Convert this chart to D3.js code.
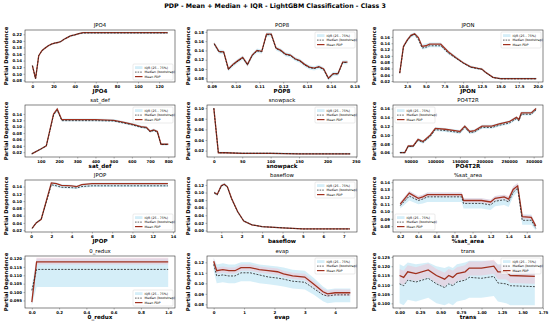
<!DOCTYPE html><html><head><meta charset="utf-8">
<script src="https://cdn.jsdelivr.net/npm/d3@7"></script>
<style>body{margin:0;background:#fff} text{font-family:"DejaVu Sans",sans-serif}</style>
</head><body><svg id="c" width="550" height="321"></svg><script>
// ---------- data ----------
const jpo4_x = [0,3,6,9,12,15,18,21,24,27,30,33,36,40,44,48,55,65,75,85,95,105,115,128];
const jpo4_mean = [0.125,0.085,0.155,0.170,0.178,0.185,0.190,0.193,0.195,0.198,0.205,0.210,0.215,0.218,0.222,0.225,0.225,0.225,0.225,0.225,0.225,0.225,0.225,0.225];
const jpo4_med  = [0.125,0.085,0.155,0.170,0.178,0.185,0.190,0.193,0.195,0.198,0.205,0.210,0.215,0.218,0.222,0.224,0.224,0.224,0.224,0.224,0.224,0.224,0.224,0.224];
const jpo4_lo = [0.122,0.082,0.152,0.167,0.175,0.182,0.187,0.190,0.192,0.195,0.202,0.207,0.212,0.215,0.219,0.221,0.221,0.221,0.221,0.221,0.221,0.221,0.221,0.221];
const jpo4_hi = [0.128,0.088,0.158,0.173,0.181,0.188,0.193,0.196,0.198,0.201,0.208,0.213,0.218,0.221,0.225,0.228,0.228,0.228,0.228,0.228,0.228,0.228,0.228,0.228];

const pop8_x = [0.091,0.093,0.095,0.097,0.099,0.101,0.103,0.105,0.107,0.109,0.111,0.113,0.115,0.117,0.119,0.121,0.123,0.125,0.127,0.129,0.131,0.133,0.135,0.137,0.139,0.141,0.143,0.145,0.147];
const pop8_mean = [0.155,0.138,0.137,0.100,0.110,0.118,0.125,0.110,0.130,0.140,0.138,0.175,0.175,0.145,0.140,0.132,0.130,0.122,0.118,0.110,0.104,0.102,0.105,0.100,0.080,0.090,0.090,0.115,0.115];
const pop8_med  = [0.154,0.137,0.136,0.099,0.109,0.117,0.124,0.109,0.129,0.139,0.137,0.174,0.174,0.144,0.139,0.131,0.129,0.121,0.117,0.109,0.103,0.101,0.104,0.099,0.079,0.089,0.089,0.114,0.114];
const pop8_lo = [0.150,0.133,0.132,0.095,0.105,0.113,0.120,0.105,0.125,0.135,0.133,0.170,0.170,0.140,0.135,0.127,0.125,0.117,0.113,0.105,0.099,0.097,0.100,0.095,0.075,0.085,0.085,0.110,0.110];
const pop8_hi = [0.159,0.142,0.141,0.104,0.114,0.122,0.129,0.114,0.134,0.144,0.142,0.179,0.179,0.149,0.144,0.136,0.134,0.126,0.122,0.114,0.108,0.106,0.109,0.104,0.084,0.094,0.094,0.119,0.119];

const jpon_x = [1.5,2.0,2.5,3.0,3.5,4.0,4.5,5.0,5.5,6.0,7.0,7.5,8.0,9.0,10.0,11.0,12.0,12.5,13.0,14.0,15.0,16.0,17.0,18.0,19.0,19.8];
const jpon_mean = [0.045,0.130,0.150,0.165,0.170,0.158,0.130,0.132,0.137,0.137,0.137,0.125,0.113,0.095,0.078,0.065,0.060,0.058,0.048,0.032,0.028,0.028,0.028,0.028,0.028,0.028];
const jpon_med  = [0.045,0.128,0.148,0.163,0.168,0.152,0.125,0.127,0.132,0.132,0.132,0.120,0.109,0.093,0.077,0.064,0.059,0.057,0.047,0.031,0.027,0.027,0.027,0.027,0.027,0.027];
const jpon_lo = [0.040,0.123,0.143,0.158,0.163,0.148,0.120,0.122,0.127,0.127,0.127,0.116,0.105,0.090,0.074,0.061,0.056,0.054,0.044,0.029,0.025,0.025,0.025,0.025,0.025,0.025];
const jpon_hi = [0.050,0.135,0.155,0.170,0.175,0.163,0.137,0.139,0.142,0.142,0.142,0.130,0.118,0.100,0.082,0.069,0.064,0.062,0.052,0.035,0.031,0.031,0.031,0.031,0.031,0.031];

const sat_x = [50,100,130,150,170,190,215,250,300,400,500,550,600,650,680,700,720,740,760,780,800];
const sat_mean = [0.015,0.030,0.040,0.090,0.140,0.155,0.122,0.122,0.122,0.122,0.120,0.114,0.108,0.100,0.098,0.086,0.090,0.085,0.045,0.045,0.045];
const sat_med  = [0.015,0.030,0.040,0.088,0.137,0.152,0.119,0.119,0.119,0.119,0.118,0.112,0.106,0.098,0.096,0.084,0.088,0.083,0.044,0.044,0.044];
const sat_lo = [0.012,0.027,0.037,0.085,0.133,0.148,0.116,0.116,0.116,0.116,0.115,0.109,0.103,0.095,0.093,0.081,0.085,0.080,0.041,0.041,0.041];
const sat_hi = [0.018,0.033,0.043,0.094,0.144,0.160,0.126,0.126,0.126,0.126,0.124,0.118,0.112,0.104,0.102,0.090,0.094,0.089,0.049,0.049,0.049];

const snow_x = [0,8,20,50,80,100,150,200,240];
const snow_mean = [0.100,0.016,0.016,0.015,0.015,0.015,0.014,0.014,0.014];
const snow_med  = [0.100,0.016,0.016,0.015,0.015,0.015,0.014,0.014,0.014];
const snow_lo = [0.098,0.014,0.014,0.013,0.013,0.013,0.012,0.012,0.012];
const snow_hi = [0.102,0.018,0.018,0.017,0.017,0.017,0.016,0.016,0.016];

const po4_x = [28000,38000,45000,55000,65000,75000,90000,100000,120000,140000,150000,160000,170000,180000,195000,215000,230000,250000,265000,270000,275000,295000,305000];
const po4_mean = [0.060,0.060,0.075,0.075,0.090,0.085,0.100,0.115,0.113,0.110,0.108,0.120,0.108,0.110,0.120,0.120,0.125,0.130,0.140,0.135,0.150,0.150,0.160];
const po4_med  = [0.060,0.060,0.074,0.074,0.088,0.083,0.097,0.112,0.110,0.107,0.105,0.117,0.105,0.107,0.117,0.117,0.122,0.127,0.137,0.132,0.147,0.147,0.157];
const po4_lo = [0.057,0.057,0.071,0.071,0.085,0.080,0.094,0.109,0.107,0.104,0.102,0.114,0.102,0.104,0.114,0.114,0.119,0.124,0.134,0.129,0.144,0.144,0.154];
const po4_hi = [0.063,0.063,0.078,0.078,0.093,0.088,0.103,0.118,0.116,0.113,0.111,0.123,0.111,0.113,0.123,0.123,0.128,0.133,0.143,0.138,0.153,0.153,0.163];

const jpop_x = [0.1,0.5,1.0,2.0,2.5,3.0,4.0,4.5,5.0,6.0,7.0,8.0,10.0,12.0,13.5];
const jpop_mean = [0.025,0.040,0.050,0.150,0.148,0.143,0.142,0.140,0.145,0.148,0.148,0.148,0.148,0.148,0.148];
const jpop_med  = [0.025,0.040,0.050,0.145,0.142,0.138,0.137,0.136,0.140,0.142,0.142,0.142,0.142,0.142,0.142];
const jpop_lo = [0.022,0.037,0.047,0.142,0.139,0.135,0.134,0.133,0.137,0.139,0.139,0.139,0.139,0.139,0.139];
const jpop_hi = [0.028,0.043,0.053,0.153,0.151,0.146,0.145,0.143,0.148,0.151,0.151,0.151,0.151,0.151,0.151];

const base_x = [0.65,0.8,1.0,1.15,1.3,1.5,1.8,2.1,2.5,3.0,4.0,5.0,6.0,7.3];
const base_mean = [0.100,0.095,0.118,0.122,0.115,0.085,0.050,0.025,0.015,0.010,0.007,0.004,0.004,0.004];
const base_med  = [0.099,0.094,0.117,0.121,0.114,0.084,0.049,0.025,0.015,0.010,0.007,0.004,0.004,0.004];
const base_lo = [0.096,0.091,0.114,0.118,0.111,0.081,0.046,0.022,0.013,0.008,0.005,0.003,0.003,0.003];
const base_hi = [0.104,0.099,0.122,0.126,0.119,0.089,0.054,0.028,0.017,0.012,0.009,0.005,0.005,0.005];

const area_x = [0.2,0.3,0.4,0.45,0.5,0.6,0.88,0.9,1.1,1.2,1.25,1.35,1.4,1.45,1.5,1.55,1.65,1.7];
const area_mean = [0.110,0.125,0.118,0.120,0.123,0.123,0.123,0.115,0.115,0.113,0.118,0.120,0.117,0.130,0.135,0.093,0.092,0.080];
const area_med  = [0.108,0.121,0.115,0.117,0.120,0.120,0.120,0.111,0.111,0.109,0.114,0.116,0.113,0.126,0.132,0.088,0.088,0.077];
const area_lo = [0.104,0.115,0.110,0.111,0.113,0.113,0.113,0.104,0.104,0.102,0.107,0.109,0.106,0.120,0.127,0.082,0.082,0.074];
const area_hi = [0.113,0.128,0.121,0.123,0.126,0.126,0.126,0.118,0.118,0.116,0.121,0.123,0.120,0.134,0.139,0.096,0.096,0.083];
const area_plo = [0.108,0.122,0.115,0.117,0.120,0.120,0.120,0.112,0.112,0.110,0.115,0.117,0.114,0.127,0.132,0.090,0.089,0.078];
const area_phi = [0.113,0.128,0.121,0.123,0.126,0.126,0.126,0.118,0.118,0.116,0.121,0.123,0.121,0.134,0.139,0.096,0.095,0.083];

const redux_x = [0.0,0.035,0.2,0.4,0.6,0.8,1.0];
const redux_mean = [0.094,0.118,0.118,0.118,0.118,0.118,0.118];
const redux_med  = [0.101,0.1135,0.1135,0.1135,0.1135,0.1135,0.1135];
const redux_lo = [0.092,0.103,0.103,0.103,0.103,0.103,0.103];
const redux_hi = [0.104,0.120,0.120,0.120,0.120,0.120,0.120];
const redux_plo = [0.092,0.1165,0.1165,0.1165,0.1165,0.1165,0.1165];
const redux_phi = [0.097,0.1205,0.1205,0.1205,0.1205,0.1205,0.1205];

const evap_x = [0.0,0.1,0.3,0.5,0.7,0.9,1.2,1.5,1.8,2.1,2.3,2.6,3.0,3.3,3.6,3.75,4.0,4.5];
const evap_mean = [0.121,0.112,0.113,0.112,0.112,0.115,0.115,0.113,0.112,0.111,0.109,0.107,0.106,0.099,0.092,0.090,0.091,0.091];
const evap_med  = [0.118,0.107,0.108,0.107,0.107,0.110,0.110,0.108,0.106,0.105,0.104,0.102,0.101,0.095,0.089,0.088,0.089,0.089];
const evap_lo = [0.112,0.100,0.101,0.100,0.100,0.102,0.102,0.100,0.099,0.098,0.097,0.095,0.094,0.089,0.083,0.081,0.082,0.082];
const evap_hi = [0.124,0.118,0.119,0.118,0.118,0.120,0.120,0.118,0.117,0.116,0.115,0.113,0.112,0.105,0.097,0.094,0.095,0.095];
const evap_plo = [0.117,0.109,0.110,0.109,0.109,0.112,0.112,0.110,0.109,0.108,0.106,0.104,0.103,0.096,0.089,0.087,0.088,0.088];
const evap_phi = [0.124,0.115,0.116,0.115,0.115,0.118,0.118,0.116,0.115,0.114,0.112,0.110,0.109,0.102,0.095,0.093,0.094,0.094];

const trans_x = [0.0,0.05,0.1,0.2,0.35,0.45,0.55,0.6,0.65,0.7,0.8,0.85,1.0,1.15,1.2,1.3,1.35,1.65];
const trans_mean = [0.115,0.114,0.117,0.116,0.118,0.115,0.113,0.115,0.114,0.116,0.117,0.119,0.119,0.120,0.117,0.117,0.115,0.1145];
const trans_med  = [0.1105,0.1095,0.1125,0.1115,0.1135,0.1105,0.1085,0.1105,0.1095,0.1115,0.1125,0.1140,0.1135,0.1145,0.1110,0.1105,0.1095,0.1090];
const trans_lo = [0.100,0.099,0.102,0.101,0.103,0.100,0.099,0.100,0.099,0.101,0.102,0.103,0.103,0.104,0.101,0.100,0.099,0.099];
const trans_hi = [0.121,0.120,0.122,0.121,0.122,0.120,0.119,0.120,0.119,0.121,0.122,0.123,0.123,0.123,0.121,0.121,0.120,0.120];
const trans_plo = [0.111,0.110,0.113,0.112,0.114,0.111,0.109,0.111,0.110,0.112,0.113,0.115,0.115,0.116,0.113,0.113,0.111,0.1105];
const trans_phi = [0.1185,0.1175,0.1205,0.1195,0.1215,0.1185,0.1165,0.1185,0.1175,0.1195,0.1205,0.1225,0.1225,0.1235,0.1205,0.1205,0.1185,0.118];

// ticks
const jpo4_xt=[0,20,40,60,80,100,120], jpo4_yt=[0.08,0.10,0.12,0.14,0.16,0.18,0.20,0.22];
const pop8_xt=[0.09,0.10,0.11,0.12,0.13,0.14,0.15], pop8_yt=[0.08,0.10,0.12,0.14,0.16,0.18];
const jpon_xt=[2.5,5,7.5,10,12.5,15,17.5,20], jpon_yt=[0.02,0.04,0.06,0.08,0.10,0.12,0.14,0.16];
const sat_xt=[100,200,300,400,500,600,700,800], sat_yt=[0.02,0.04,0.06,0.08,0.10,0.12,0.14];
const snow_xt=[0,50,100,150,200,250], snow_yt=[0.02,0.04,0.06,0.08,0.10];
const po4_xt=[50000,100000,150000,200000,250000,300000], po4_yt=[0.06,0.08,0.10,0.12,0.14,0.16];
const jpop_xt=[0,2,4,6,8,10,12,14], jpop_yt=[0.02,0.04,0.06,0.08,0.10,0.12,0.14];
const base_xt=[1,2,3,4,5,6,7], base_yt=[0.00,0.02,0.04,0.06,0.08,0.10,0.12];
const area_xt=[0.2,0.4,0.6,0.8,1.0,1.2,1.4,1.6], area_yt=[0.08,0.09,0.10,0.11,0.12,0.13,0.14];
const redux_xt=[0.0,0.2,0.4,0.6,0.8,1.0], redux_yt=[0.095,0.100,0.105,0.110,0.115,0.120];
const evap_xt=[0,1,2,3,4], evap_yt=[0.08,0.09,0.10,0.11,0.12];
const trans_xt=[0,0.25,0.5,0.75,1.0,1.25,1.5,1.75], trans_yt=[0.100,0.105,0.110,0.115,0.120,0.125];

const titles = ["JPO4","POP8","JPON","sat_def","snowpack","PO4T2R","JPOP","baseflow","%sat_area","0_redux","evap","trans"];
const legendLabels = ["IQR (25 - 75%)","Median (bootstrap)","Mean PDP"];

// ---------- layout ----------
const panels = [
 {x:jpo4_x,m:jpo4_mean,md:jpo4_med,lo:jpo4_lo,hi:jpo4_hi,xt:jpo4_xt,yt:jpo4_yt,xd:[-7,135],yd:[0.075,0.233],xf:d3.format("d"),yf:d3.format(".2f"),leg:"br"},
 {x:pop8_x,m:pop8_mean,md:pop8_med,lo:pop8_lo,hi:pop8_hi,xt:pop8_xt,yt:pop8_yt,xd:[0.088,0.151],yd:[0.072,0.184],xf:d3.format(".2f"),yf:d3.format(".2f"),leg:"tr"},
 {x:jpon_x,m:jpon_mean,md:jpon_med,lo:jpon_lo,hi:jpon_hi,xt:jpon_xt,yt:jpon_yt,xd:[0.6,20.7],yd:[0.017,0.182],xf:d3.format(".1f"),yf:d3.format(".2f"),leg:"tr"},
 {x:sat_x,m:sat_mean,md:sat_med,lo:sat_lo,hi:sat_hi,xt:sat_xt,yt:sat_yt,xd:[13,837],yd:[0.005,0.168],xf:d3.format("d"),yf:d3.format(".2f"),leg:"tr"},
 {x:snow_x,m:snow_mean,md:snow_med,lo:snow_lo,hi:snow_hi,xt:snow_xt,yt:snow_yt,xd:[-12,252],yd:[0.008,0.106],xf:d3.format("d"),yf:d3.format(".2f"),leg:"tr"},
 {x:po4_x,m:po4_mean,md:po4_med,lo:po4_lo,hi:po4_hi,xt:po4_xt,yt:po4_yt,xd:[14000,319000],yd:[0.05,0.168],xf:d3.format("d"),yf:d3.format(".2f"),leg:"tl"},
 {x:jpop_x,m:jpop_mean,md:jpop_med,lo:jpop_lo,hi:jpop_hi,xt:jpop_xt,yt:jpop_yt,xd:[-0.6,14.2],yd:[0.015,0.158],xf:d3.format("d"),yf:d3.format(".2f"),leg:"br"},
 {x:base_x,m:base_mean,md:base_med,lo:base_lo,hi:base_hi,xt:base_xt,yt:base_yt,xd:[0.3,7.65],yd:[-0.004,0.133],xf:d3.format("d"),yf:d3.format(".2f"),leg:"tr"},
 {x:area_x,m:area_mean,md:area_med,lo:area_lo,hi:area_hi,plo:area_plo,phi:area_phi,xt:area_xt,yt:area_yt,xd:[0.12,1.78],yd:[0.072,0.143],xf:d3.format(".1f"),yf:d3.format(".2f"),leg:"bl"},
 {x:redux_x,m:redux_mean,md:redux_med,lo:redux_lo,hi:redux_hi,plo:redux_plo,phi:redux_phi,xt:redux_xt,yt:redux_yt,xd:[-0.05,1.05],yd:[0.0905,0.1215],xf:d3.format(".1f"),yf:d3.format(".3f"),leg:"br"},
 {x:evap_x,m:evap_mean,md:evap_med,lo:evap_lo,hi:evap_hi,plo:evap_plo,phi:evap_phi,xt:evap_xt,yt:evap_yt,xd:[-0.22,4.72],yd:[0.0765,0.126],xf:d3.format("d"),yf:d3.format(".2f"),leg:"tr"},
 {x:trans_x,m:trans_mean,md:trans_med,lo:trans_lo,hi:trans_hi,plo:trans_plo,phi:trans_phi,xt:trans_xt,yt:trans_yt,xd:[-0.08,1.75],yd:[0.0975,0.1255],xf:d3.format(".2f"),yf:d3.format(".3f"),leg:"tr"}
];

const svg = d3.select("#c");
svg.append("text").attr("x",275).attr("y",8).attr("text-anchor","middle")
  .attr("font-size",6.3).attr("font-weight","bold").text("PDP - Mean + Median + IQR - LightGBM Classification - Class 3");

const colX=[25,207,393], colW=150, rowY=[30,105,180,256], rowH=52;
const meanColor="#a0301e", bandColor="#87ceeb", pinkColor="#f4b6c8";

panels.forEach((p,i)=>{
  const c=i%3, r=Math.floor(i/3);
  const x0=colX[c], y0=rowY[r];
  const g=svg.append("g").attr("transform",`translate(${x0},${y0})`);
  const xs=d3.scaleLinear().domain(p.xd).range([0,colW]);
  const ys=d3.scaleLinear().domain(p.yd).range([rowH,0]);
  const idx=d3.range(p.x.length);
  g.append("path").attr("d",d3.area().x(j=>xs(p.x[j])).y0(j=>ys(p.lo[j])).y1(j=>ys(p.hi[j]))(idx))
    .attr("fill",bandColor).attr("fill-opacity",0.35);
  if(p.plo) g.append("path").attr("d",d3.area().x(j=>xs(p.x[j])).y0(j=>ys(p.plo[j])).y1(j=>ys(p.phi[j]))(idx))
    .attr("fill",pinkColor).attr("fill-opacity",0.4);
  g.append("path").attr("d",d3.line().x(j=>xs(p.x[j])).y(j=>ys(p.m[j]))(idx))
    .attr("fill","none").attr("stroke",meanColor).attr("stroke-width",1.3);
  g.append("path").attr("d",d3.line().x(j=>xs(p.x[j])).y(j=>ys(p.md[j]))(idx))
    .attr("fill","none").attr("stroke","#222").attr("stroke-width",0.8).attr("stroke-dasharray","2,1.3");
  g.append("rect").attr("width",colW).attr("height",rowH).attr("fill","none").attr("stroke","#333").attr("stroke-width",0.6);
  const xa=g.append("g").attr("transform",`translate(0,${rowH})`).call(d3.axisBottom(xs).tickValues(p.xt).tickFormat(p.xf).tickSize(1.5).tickPadding(1.5));
  const ya=g.append("g").call(d3.axisLeft(ys).tickValues(p.yt).tickFormat(p.yf).tickSize(1.5).tickPadding(1.5));
  [xa,ya].forEach(a=>{a.select(".domain").remove();a.selectAll("text").attr("font-size",3.9).attr("font-weight","bold").attr("font-family","DejaVu Sans");a.selectAll("line").attr("stroke","#444").attr("stroke-width",0.4);});
  g.append("text").attr("x",colW/2).attr("y",-3).attr("text-anchor","middle").attr("font-size",5.4).text(titles[i]);
  g.append("text").attr("x",colW/2).attr("y",rowH+11).attr("text-anchor","middle").attr("font-size",5.6).attr("font-weight","bold").text(titles[i]);
  g.append("text").attr("transform",`translate(-17.5,${rowH/2}) rotate(-90)`).attr("text-anchor","middle").attr("font-size",5.3).attr("font-weight","bold").text("Partial Dependence");
  // legend
  const lw=40, lh=16;
  const lx = p.leg.includes("r") ? colW-lw-2 : 2;
  const ly = p.leg.includes("t") ? 2 : rowH-lh-2;
  const lg=g.append("g").attr("transform",`translate(${lx},${ly})`);
  lg.append("rect").attr("width",lw).attr("height",lh).attr("rx",1).attr("fill","#fff").attr("fill-opacity",0.8).attr("stroke","#ccc").attr("stroke-width",0.4);
  legendLabels.forEach((t,k)=>{
    const yy=3.6+k*4.5;
    if(k===0) lg.append("rect").attr("x",2).attr("y",yy-1.4).attr("width",7.5).attr("height",2.8).attr("fill",bandColor).attr("fill-opacity",0.35);
    if(k===1) lg.append("line").attr("x1",2).attr("x2",9.5).attr("y1",yy).attr("y2",yy).attr("stroke","#222").attr("stroke-width",0.7).attr("stroke-dasharray","1.6,1");
    if(k===2) lg.append("line").attr("x1",2).attr("x2",9.5).attr("y1",yy).attr("y2",yy).attr("stroke",meanColor).attr("stroke-width",1.2);
    lg.append("text").attr("x",11.5).attr("y",yy+1.2).attr("font-size",3.2).text(t);
  });
});
</script></body></html>
